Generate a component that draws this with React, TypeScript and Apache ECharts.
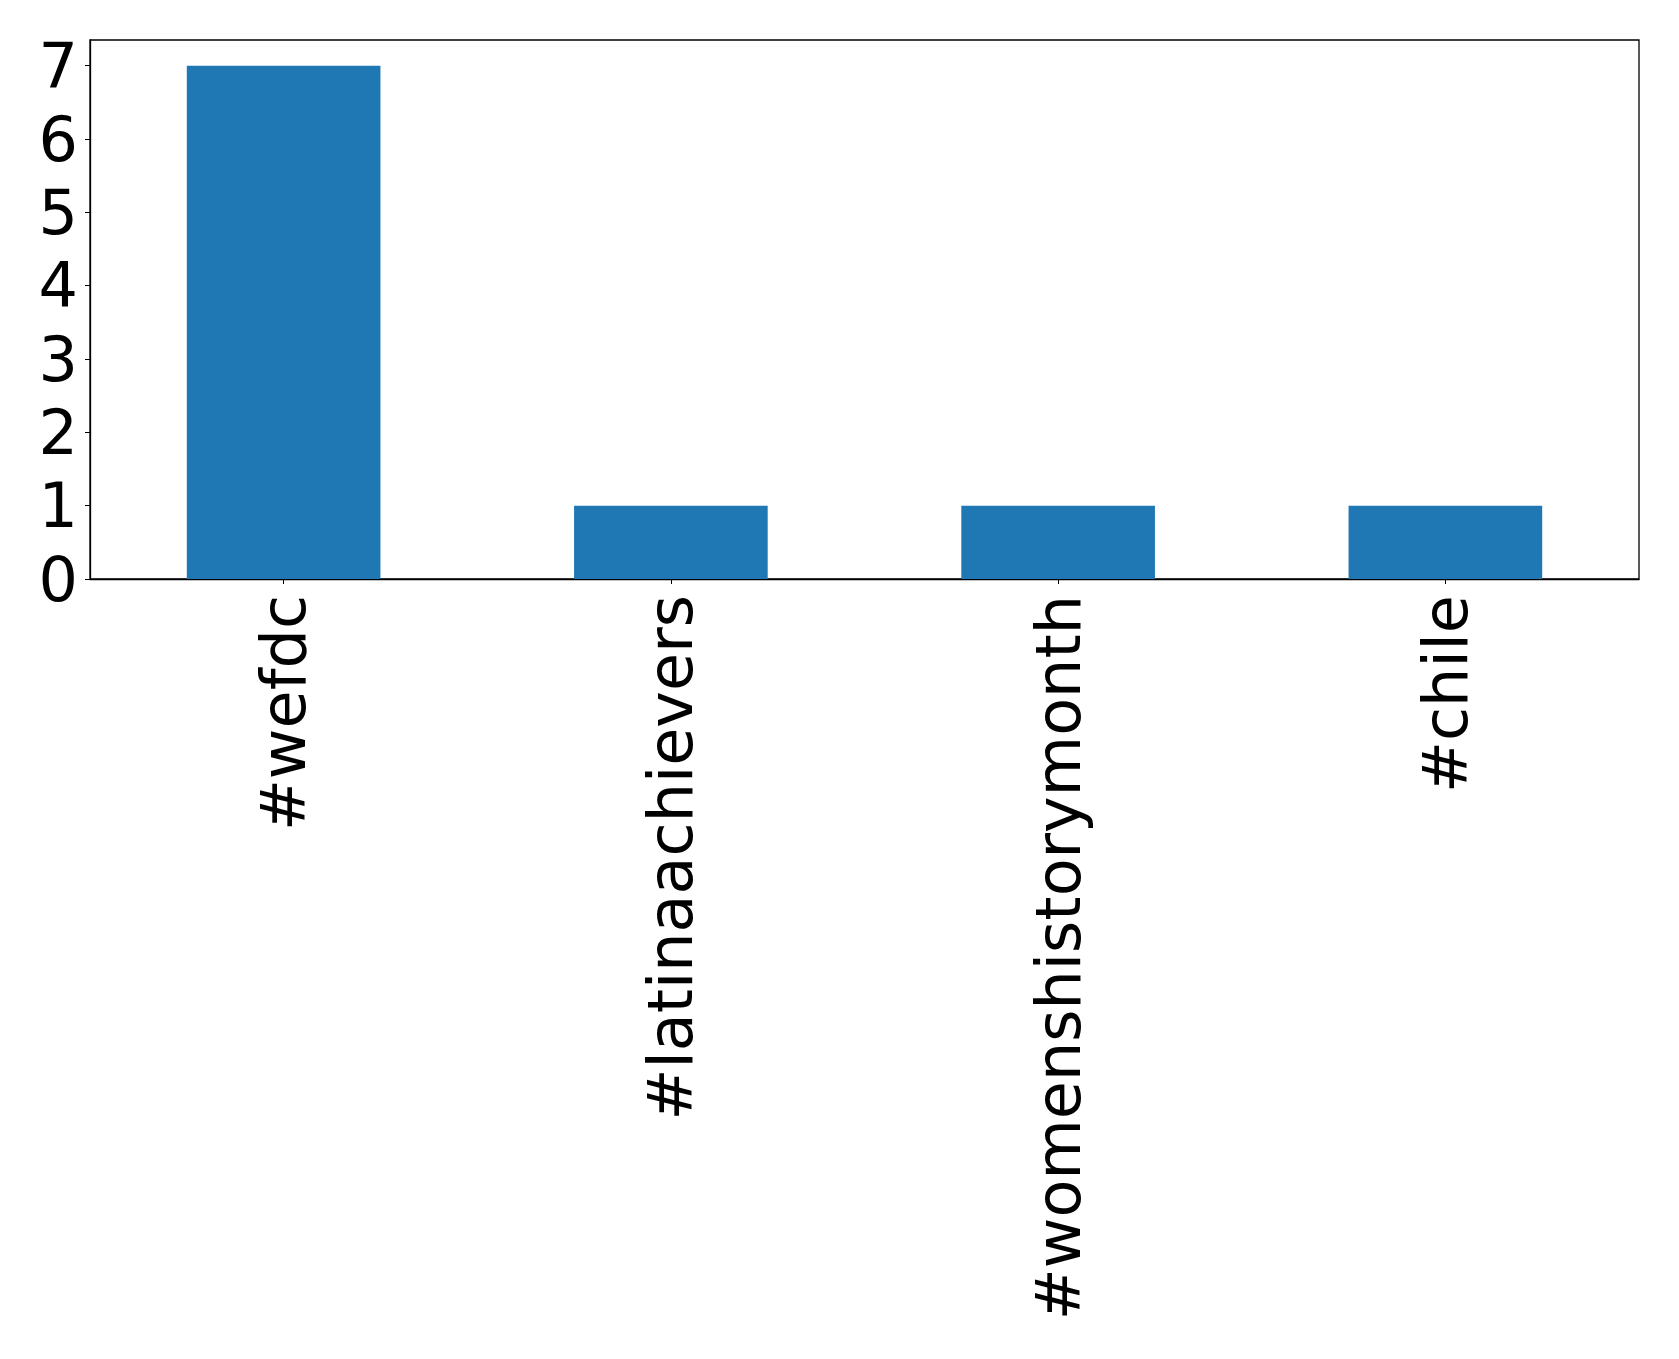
import React, { useEffect, useRef } from "react";
import * as echarts from "echarts";

const categories = ["#wefdc", "#latinaachievers", "#womenshistorymonth", "#chile"];
const counts = [7, 1, 1, 1];
const yMax = 7.35;

export default function App() {
  const ref = useRef<HTMLDivElement>(null);
  useEffect(() => {
    if (!ref.current) return;
    const chart = echarts.init(ref.current, null, { renderer: "svg" });
    const font = "DejaVu Sans";
    chart.setOption({
      animation: false,
      backgroundColor: "#ffffff",
      grid: {
        left: 90,
        top: 40,
        right: 40,
        bottom: 780,
        show: true,
        borderColor: "#000000",
        borderWidth: 1.3,
        backgroundColor: "transparent",
      },
      xAxis: {
        type: "category",
        data: categories,
        boundaryGap: true,
        axisLine: { show: true, lineStyle: { color: "#000", width: 1.3 } },
        axisTick: { show: true, alignWithLabel: true, length: 5, lineStyle: { color: "#000" } },
        axisLabel: {
          rotate: 90,
          interval: 0,
          margin: 16,
          fontFamily: font,
          fontSize: 62,
          color: "#000",
        },
        splitLine: { show: false },
      },
      yAxis: {
        type: "value",
        min: 0,
        max: yMax,
        interval: 1,
        axisLine: { show: true, lineStyle: { color: "#000", width: 1.3 } },
        axisTick: { show: true, length: 5, lineStyle: { color: "#000" } },
        axisLabel: {
          margin: 12,
          fontFamily: font,
          fontSize: 62,
          color: "#000",
          showMaxLabel: false,
          formatter: (v: number) => (Number.isInteger(v) ? String(v) : ""),
        },
        splitLine: { show: false },
      },
      series: [
        {
          type: "bar",
          data: counts,
          barWidth: "50%",
          itemStyle: { color: "#1f77b4" },
        },
      ],
    });
    return () => chart.dispose();
  }, []);
  return (
    <div
      ref={ref}
      style={{ position: "fixed", left: 0, top: 0, width: 1679, height: 1359, background: "#fff" }}
    />
  );
}
